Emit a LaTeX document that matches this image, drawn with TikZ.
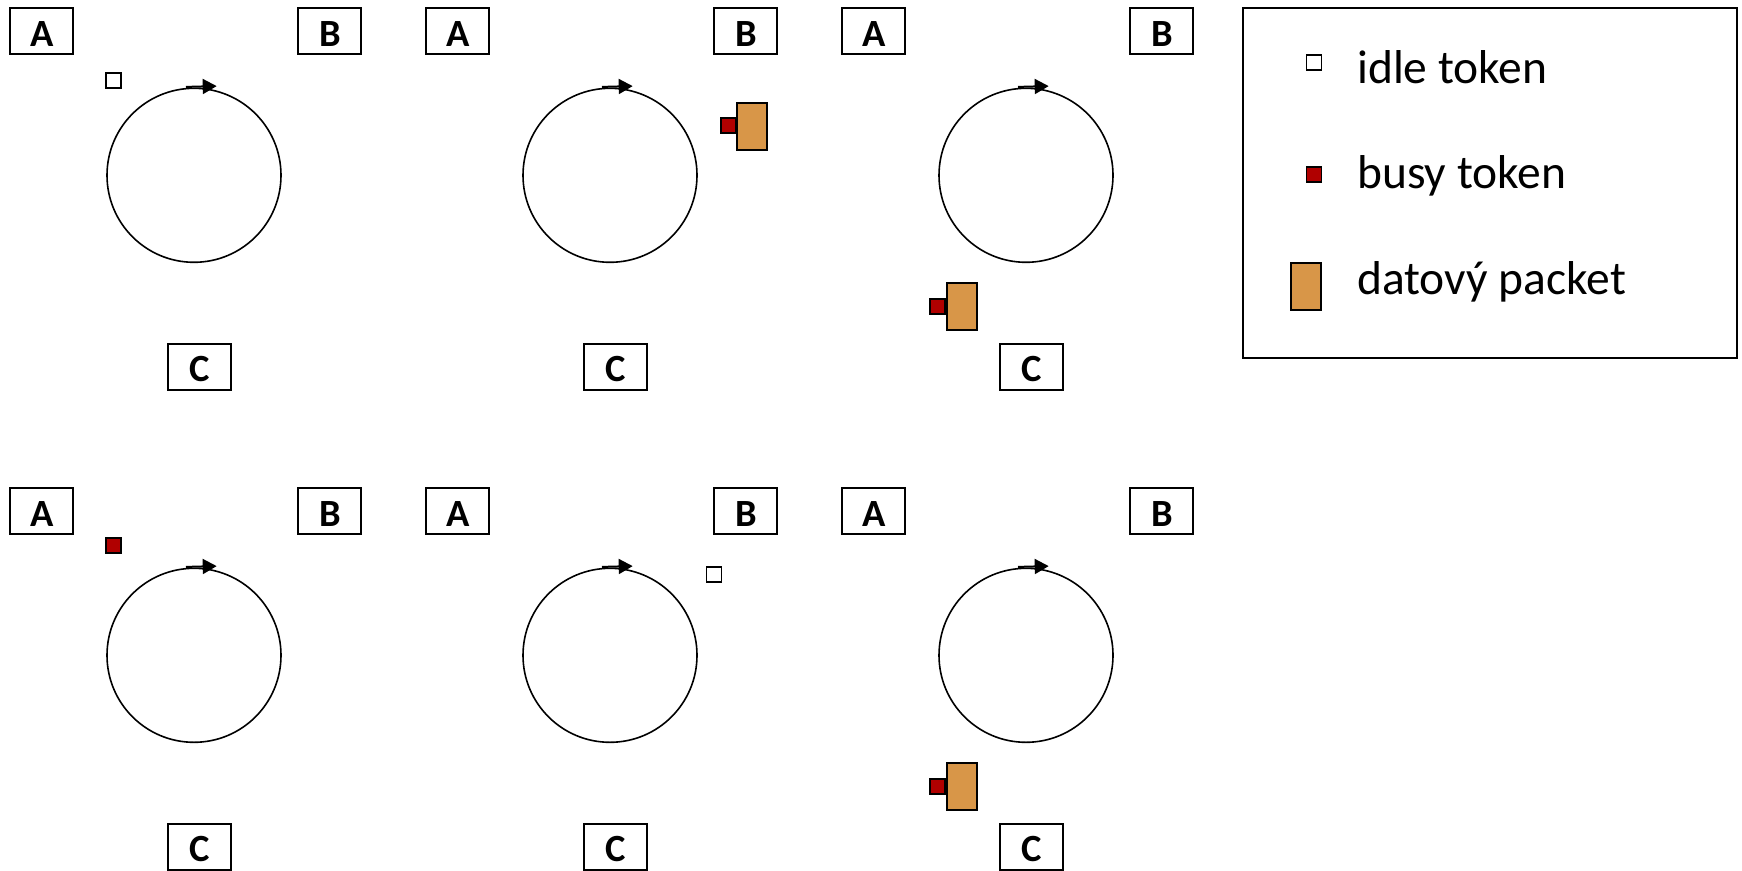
\documentclass[tikz,border=0pt]{standalone}
\usepackage{fontspec}
\setmainfont{Carlito}
\usetikzlibrary{arrows.meta}
\definecolor{busyred}{RGB}{176,0,0}
\definecolor{packetor}{RGB}{216,150,72}
\begin{document}
\begin{tikzpicture}[x=1pt,y=-1pt,
  stationbox/.style={draw,line width=2pt,minimum width=63pt,minimum height=46pt,inner sep=0pt,
    font=\fontsize{38.5}{46}\selectfont\bfseries,text height=30.5pt,text depth=0pt},
  ring/.style={draw,circle,line width=1.6pt,minimum size=174pt,inner sep=0pt},
  ringarrow/.style={line width=2pt,-{Triangle[length=14pt,width=15pt]}},
  idletok/.style={draw,line width=1.8pt,fill=white,minimum size=15pt,inner sep=0pt},
  busytok/.style={draw,line width=1.8pt,fill=busyred,minimum size=15pt,inner sep=0pt},
  packet/.style={draw,line width=2pt,fill=packetor,minimum width=30.5pt,minimum height=46.5pt,inner sep=0pt},
  legtext/.style={anchor=base west,inner sep=0pt,font=\fontsize{47.5}{57}\selectfont}]
\useasboundingbox[fill=white] (0,0) rectangle (1742,870);

\foreach \c/\r [count=\i] in {0/0,1/0,2/0,0/1,1/1,2/1} {
  \begin{scope}[shift={(\c*416,\r*480)}]
    \node[stationbox] (A\i) at (41.8,30.8) {A};
    \node[stationbox] (B\i) at (329.8,30.8) {B};
    \node[stationbox] (C\i) at (199.5,366.5) {C};
    \node[ring] (O\i) at (194,175.3) {};
    \draw[ringarrow] ([shift={(-8,-0.6)}]O\i.north) -- ([shift={(22.7,-1.4)}]O\i.north);
  \end{scope}
}

% panel 1: idle token near A
\node[idletok] (t1) at (113.5,80.5) {};
% panel 2: busy token + packet near B
\node[busytok] (t2) at (728.3,125.7) {};
\node[packet] (p2) at (752,126.5) {};
% panel 3: busy token + packet near C
\node[busytok] (t3) at (937.5,306.7) {};
\node[packet] (p3) at (962,306.7) {};
% panel 4: busy token near A
\node[busytok] (t4) at (113.5,545.5) {};
% panel 5: idle token near B
\node[idletok] (t5) at (714,574.7) {};
% panel 6: busy token + packet near C
\node[busytok] (t6) at (937.5,786.7) {};
\node[packet] (p6) at (962,786.7) {};

% legend
\node[draw,line width=2pt,minimum width=494.6pt,minimum height=350.3pt,inner sep=0pt] (leg) at (1490,182.9) {};
\node[idletok] (li) at (1314,62.7) {};
\node[busytok] (lb) at (1314,174.7) {};
\node[packet] (lp) at (1305.8,286.7) {};
\node[legtext] (lti) at (1357,83.3) {idle token};
\node[legtext] (ltb) at (1357,188.3) {busy token};
\node[legtext] (ltp) at (1357,294) {datový packet};
\end{tikzpicture}
\end{document}
